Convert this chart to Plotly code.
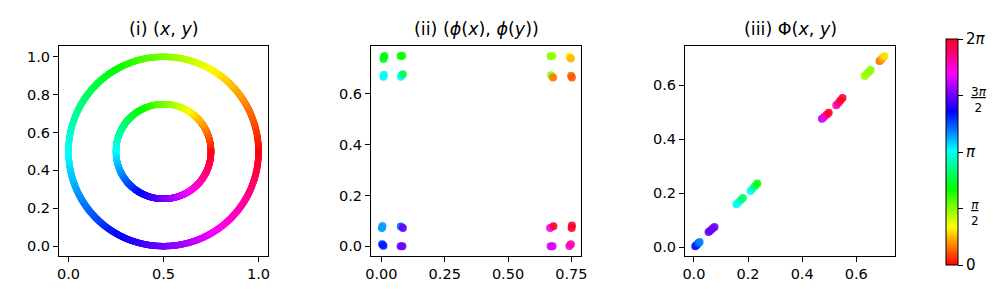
import numpy as np
import plotly.graph_objects as go

# ---------------- data ----------------
# panel (i): two rings centred at (0.5, 0.5), coloured by angle
ring_center = [0.5, 0.5]
ring_radii = [0.5, 0.25]

# panel (ii): (phi(x), phi(y)) points, hue as fraction of a full turn
phi_x = [0.008, 0.010, 0.012, 0.076, 0.082, 0.008, 0.010, 0.077, 0.080, 0.085,
         0.668, 0.675, 0.742, 0.748, 0.670, 0.678, 0.749, 0.752,
         0.002, 0.004, 0.077, 0.085, 0.003, 0.008, 0.076, 0.083,
         0.666, 0.679, 0.751, 0.752, 0.668, 0.676, 0.742, 0.748]
phi_y = [0.738, 0.745, 0.750, 0.750, 0.751, 0.668, 0.676, 0.668, 0.674, 0.678,
         0.749, 0.750, 0.747, 0.740, 0.674, 0.665, 0.672, 0.665,
         0.072, 0.080, 0.078, 0.072, 0.008, 0.002, 0.000, 0.000,
         0.072, 0.079, 0.072, 0.082, 0.000, 0.000, 0.001, 0.008]
phi_turn = [0.37, 0.36, 0.35, 0.34, 0.33, 0.51, 0.50, 0.51, 0.50, 0.40,
            0.25, 0.24, 0.16, 0.12, 0.25, 0.08, 0.07, 0.06,
            0.58, 0.57, 0.62, 0.74, 0.66, 0.66, 0.75, 0.75,
            0.84, 0.99, 0.99, 0.99, 0.82, 0.82, 0.88, 0.90]

# panel (iii): Phi(x, y) points
big_x = [0.005, 0.010, 0.016, 0.021, 0.054, 0.061, 0.069, 0.076,
         0.157, 0.165, 0.173, 0.181, 0.209, 0.217, 0.226, 0.234,
         0.473, 0.481, 0.490, 0.498, 0.526, 0.534, 0.541, 0.549,
         0.631, 0.638, 0.646, 0.653, 0.686, 0.692, 0.698, 0.704]
big_y = [0.003, 0.008, 0.014, 0.019, 0.056, 0.062, 0.069, 0.075,
         0.159, 0.166, 0.175, 0.182, 0.208, 0.217, 0.227, 0.236,
         0.476, 0.483, 0.491, 0.498, 0.526, 0.535, 0.544, 0.553,
         0.635, 0.642, 0.650, 0.657, 0.690, 0.696, 0.702, 0.709]
big_turn = [0.67, 0.66, 0.62, 0.59, 0.74, 0.74, 0.75, 0.75,
            0.51, 0.49, 0.44, 0.41, 0.50, 0.48, 0.40, 0.35,
            0.80, 0.83, 0.93, 0.99, 0.90, 0.92, 0.96, 0.99,
            0.23, 0.24, 0.24, 0.25, 0.07, 0.09, 0.12, 0.15]

titles = ["(i) (<i>x</i>, <i>y</i>)",
          "(ii) (<i>ϕ</i>(<i>x</i>), <i>ϕ</i>(<i>y</i>))",
          "(iii) Φ(<i>x</i>, <i>y</i>)"]
cbar_tickvals_pi = [0, 0.5, 1.0, 1.5, 2.0]
cbar_ticktext = ["0", "", "<i>π</i>", "", "2<i>π</i>"]
cbar_frac_vals_pi = [0.5, 1.5]
cbar_frac_text = ["<u><i>π</i></u><br>2", "<u>3<i>π</i></u><br>2"]

# ---------------- styling / figure ----------------
TWO_PI = 2 * np.pi
W, H = 996, 289

# matplotlib 'hsv' colormap
hsv_scale = [
    [0.0, "rgb(255,0,0)"], [0.158730, "rgb(255,239,0)"], [0.174603, "rgb(247,255,0)"],
    [0.333333, "rgb(8,255,0)"], [0.349206, "rgb(0,255,16)"], [0.507937, "rgb(0,255,255)"],
    [0.666667, "rgb(0,16,255)"], [0.682540, "rgb(8,0,255)"], [0.841270, "rgb(247,0,255)"],
    [0.857143, "rgb(255,0,239)"], [1.0, "rgb(255,0,24)"],
]

fig = go.Figure()

theta = np.linspace(0, TWO_PI, 900, endpoint=False)
for r in ring_radii:
    fig.add_trace(go.Scatter(
        x=ring_center[0] + r * np.cos(theta), y=ring_center[1] + r * np.sin(theta),
        mode="markers", xaxis="x", yaxis="y",
        marker=dict(size=6.5, color=theta, coloraxis="coloraxis", line=dict(width=0)),
        showlegend=False, hoverinfo="skip"))

fig.add_trace(go.Scatter(
    x=phi_x, y=phi_y, mode="markers", xaxis="x2", yaxis="y2",
    marker=dict(size=8, color=[t * TWO_PI for t in phi_turn], coloraxis="coloraxis",
                opacity=0.9, line=dict(width=0)),
    showlegend=False))

fig.add_trace(go.Scatter(
    x=big_x, y=big_y, mode="markers", xaxis="x3", yaxis="y3",
    marker=dict(size=8, color=[t * TWO_PI for t in big_turn], coloraxis="coloraxis",
                opacity=0.9, line=dict(width=0)),
    showlegend=False))

ydom = [1 - 248 / H, 1 - 38 / H]
xdoms = [[51 / W, 260 / W], [363 / W, 573 / W], [677 / W, 887 / W]]

font = dict(family="DejaVu Sans", size=14.5, color="black")
ax_common = dict(showline=True, mirror=True, linecolor="black", linewidth=1,
                 ticks="outside", ticklen=5, tickwidth=1, tickcolor="black",
                 showgrid=False, zeroline=False, tickfont=font)

cb_top, cb_len = 1 - 31 / H, 226 / H
cb_left, cb_thick = 938, 12

annotations = [
    dict(text=t, x=(d[0] + d[1]) / 2, y=ydom[1], xref="paper", yref="paper",
         xanchor="center", yanchor="bottom", yshift=5, showarrow=False,
         font=dict(family="DejaVu Sans", size=17.5, color="black"))
    for t, d in zip(titles, xdoms)
]
for v, t in zip(cbar_frac_vals_pi, cbar_frac_text):
    annotations.append(dict(
        text=t, x=(cb_left + cb_thick + 11) / W, y=cb_top - cb_len * (1 - v / 2.0),
        xref="paper", yref="paper", xanchor="left", yanchor="middle", yshift=-4,
        align="center", showarrow=False,
        font=dict(family="DejaVu Sans", size=12, color="black")))

layout = dict(
    width=W, height=H, margin=dict(l=0, r=0, t=0, b=0, autoexpand=False),
    paper_bgcolor="white", plot_bgcolor="white", font=font,
    xaxis=dict(domain=xdoms[0], range=[-0.05, 1.05], tickvals=[0, 0.5, 1.0],
               tickformat=".1f", anchor="y", **ax_common),
    yaxis=dict(domain=ydom, range=[-0.052, 1.057], dtick=0.2, tickformat=".1f",
               anchor="x", **ax_common),
    xaxis2=dict(domain=xdoms[1], range=[-0.041, 0.788], dtick=0.25,
                tickformat=".2f", anchor="y2", **ax_common),
    yaxis2=dict(domain=ydom, range=[-0.038, 0.789], dtick=0.2, tickformat=".1f",
                anchor="x2", **ax_common),
    xaxis3=dict(domain=xdoms[2], range=[-0.033, 0.743], dtick=0.2,
                tickformat=".1f", anchor="y3", **ax_common),
    yaxis3=dict(domain=ydom, range=[-0.033, 0.746], dtick=0.2, tickformat=".1f",
                anchor="x3", **ax_common),
    coloraxis=dict(
        colorscale=hsv_scale, cmin=0, cmax=TWO_PI,
        colorbar=dict(
            thickness=cb_thick, thicknessmode="pixels",
            len=cb_len, lenmode="fraction",
            x=cb_left / W, xanchor="left", y=cb_top, yanchor="top",
            xpad=0, ypad=0, outlinewidth=1, outlinecolor="black",
            ticks="outside", ticklen=5, tickwidth=1, tickcolor="black",
            tickvals=[v * np.pi for v in cbar_tickvals_pi],
            ticktext=cbar_ticktext,
            tickfont=dict(family="DejaVu Sans", size=15, color="black"),
        ),
    ),
    annotations=annotations,
)
fig.update_layout(**layout)
fig.write_html("out.html")
